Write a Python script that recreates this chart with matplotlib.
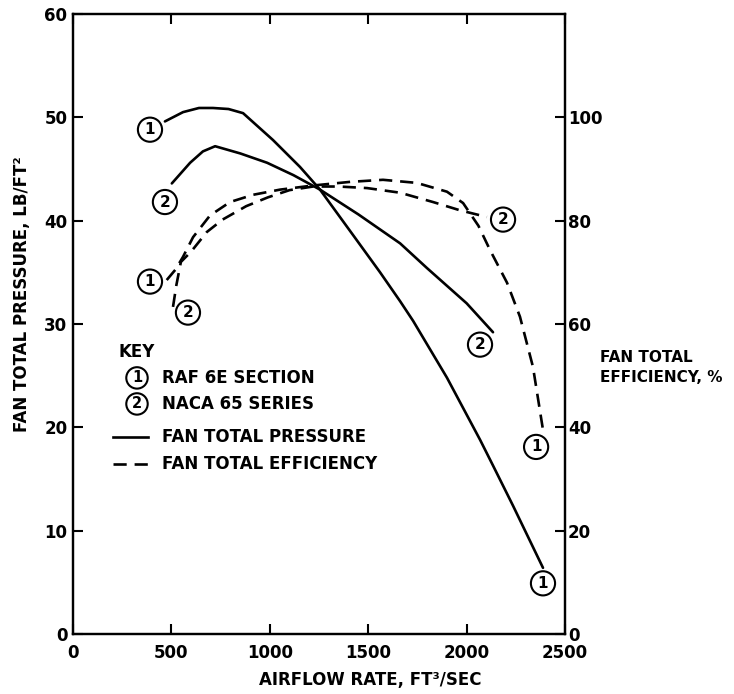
import matplotlib
matplotlib.use("Agg")
import matplotlib.pyplot as plt
from matplotlib.lines import Line2D

plt.rcParams['font.family'] = ['DejaVu Sans']
plt.rcParams['font.weight'] = 'bold'

# fan total pressure, lb/ft^2
raf_p_x = [467, 559, 640, 711, 790, 864, 1016, 1153, 1255, 1423, 1560, 1662, 1728, 1900, 2068, 2134, 2236, 2388]
raf_p_y = [49.6, 50.5, 50.9, 50.9, 50.8, 50.4, 47.8, 45.2, 43.0, 38.6, 35.0, 32.2, 30.3, 24.8, 18.8, 16.3, 12.4, 6.4]

naca_p_x = [502, 595, 660, 722, 850, 986, 1120, 1255, 1450, 1662, 1799, 2000, 2134]
naca_p_y = [43.6, 45.6, 46.7, 47.2, 46.5, 45.6, 44.4, 43.0, 40.6, 37.8, 35.4, 32.0, 29.2]

# fan total efficiency, %
raf_e_x = [476, 520, 559, 610, 696, 798, 915, 1052, 1220, 1408, 1575, 1747, 1900, 1982, 2060, 2119, 2205, 2271, 2337, 2388]
raf_e_y = [68.5, 70.5, 73.0, 76.8, 81.0, 83.6, 85.0, 86.0, 86.8, 87.5, 87.9, 87.3, 85.6, 83.4, 79.0, 74.3, 68.0, 61.4, 51.7, 39.5]

naca_e_x = [508, 525, 548, 600, 680, 760, 880, 990, 1100, 1220, 1350, 1494, 1662, 1829, 1966, 2103]
naca_e_y = [63.3, 67.5, 72.0, 74.0, 77.8, 80.2, 82.8, 84.5, 85.9, 86.6, 86.6, 86.3, 85.4, 83.6, 82.0, 80.7]

x_ticks = [0, 500, 1000, 1500, 2000, 2500]
p_ticks = [0, 10, 20, 30, 40, 50, 60]
e_ticks = [0, 20, 40, 60, 80, 100]

fig = plt.figure(figsize=(7.34, 6.94), dpi=100)
ax = fig.add_axes([0.0995, 0.0865, 0.6703, 0.8934])
ax2 = ax.twinx()

LW = 1.9
DASH = (5, 3)
ax.plot(raf_p_x, raf_p_y, color='black', lw=LW, solid_capstyle='round')
ax.plot(naca_p_x, naca_p_y, color='black', lw=LW, solid_capstyle='round')
ax2.plot(raf_e_x, raf_e_y, color='black', lw=LW, dashes=DASH)
ax2.plot(naca_e_x, naca_e_y, color='black', lw=LW, dashes=DASH)

ax.set_xlim(0, 2500)
ax.set_ylim(0, 60)
ax2.set_ylim(0, 120)
ax.set_xticks(x_ticks)
ax.set_yticks(p_ticks)
ax2.set_yticks(e_ticks)

for a in (ax, ax2):
    for s in a.spines.values():
        s.set_linewidth(1.6)
ax.tick_params(axis='both', direction='in', length=7, width=1.5, top=True, labelsize=12, pad=4)
ax.tick_params(axis='x', pad=7)
ax2.tick_params(axis='y', direction='in', length=7, width=1.5, labelsize=12, pad=2)

circ = dict(boxstyle='circle,pad=0.3', fc='white', ec='black', lw=1.5)
circ_key = dict(boxstyle='circle,pad=0.22', fc='white', ec='black', lw=1.5)

def tag(a, x, y, s):
    a.text(x, y, s, ha='center', va='center', fontsize=11, bbox=circ, zorder=5)

# curve tags, pressure axis
tag(ax, 391, 48.8, '1')
tag(ax, 467, 41.8, '2')
tag(ax, 2068, 28.0, '2')
tag(ax, 2388, 4.9, '1')
# curve tags, efficiency axis
tag(ax2, 391, 68.2, '1')
tag(ax2, 584, 62.2, '2')
tag(ax2, 2185, 80.2, '2')
tag(ax2, 2353, 36.2, '1')

# key
tr = ax.transAxes
ax.text(0.092, 0.455, 'KEY', transform=tr, fontsize=12, va='center')
ax.text(0.130, 0.413, '1', transform=tr, fontsize=10.5, ha='center', va='center', bbox=circ_key)
ax.text(0.180, 0.413, 'RAF 6E SECTION', transform=tr, fontsize=12, va='center')
ax.text(0.130, 0.371, '2', transform=tr, fontsize=10.5, ha='center', va='center', bbox=circ_key)
ax.text(0.180, 0.371, 'NACA 65 SERIES', transform=tr, fontsize=12, va='center')
ax.add_line(Line2D([0.081, 0.153], [0.318, 0.318], transform=tr, color='black', lw=LW))
ax.text(0.181, 0.318, 'FAN TOTAL PRESSURE', transform=tr, fontsize=12, va='center')
ax.add_line(Line2D([0.081, 0.153], [0.274, 0.274], transform=tr, color='black', lw=LW, dashes=DASH))
ax.text(0.181, 0.274, 'FAN TOTAL EFFICIENCY', transform=tr, fontsize=12, va='center')

fig.text(0.504, 0.02, 'AIRFLOW RATE, FT³/SEC', ha='center', va='center', fontsize=12)
fig.text(0.030, 0.576, 'FAN TOTAL PRESSURE, LB/FT²', ha='center', va='center', rotation=90, fontsize=12)
fig.text(0.818, 0.471, 'FAN TOTAL\nEFFICIENCY, %', ha='left', va='center', fontsize=11, linespacing=1.4)

fig.savefig('out.png', dpi=100)
